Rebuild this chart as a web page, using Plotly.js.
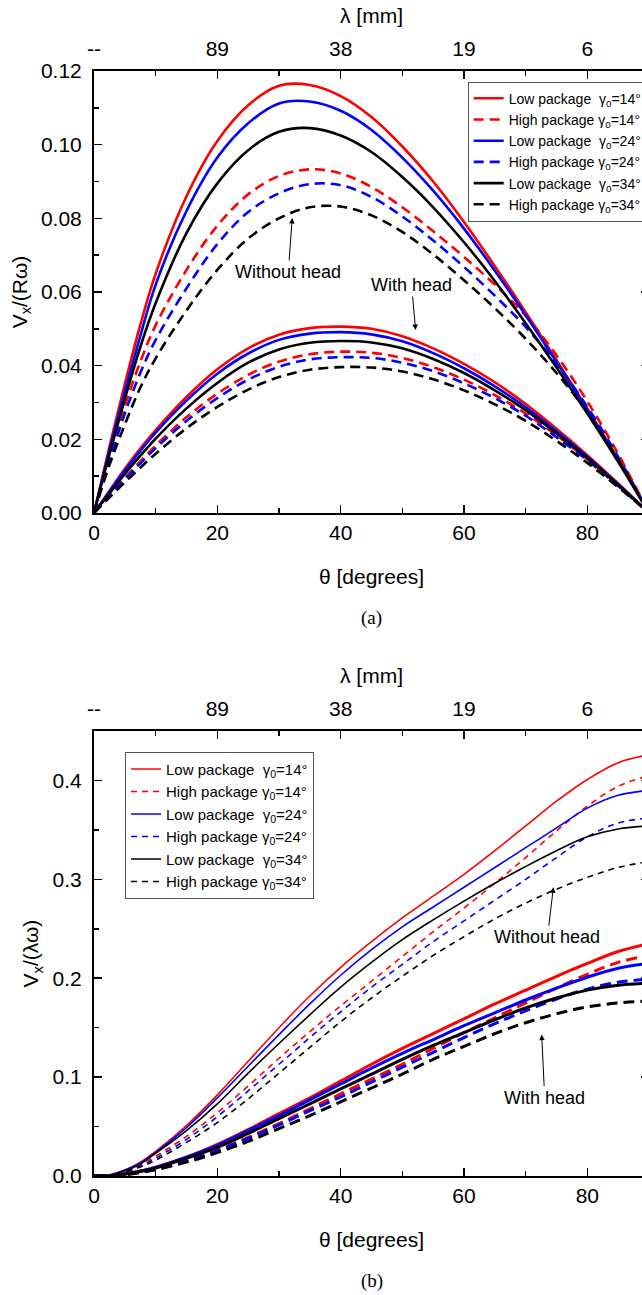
<!DOCTYPE html>
<html>
<head>
<meta charset="utf-8">
<script src="https://cdn.plot.ly/plotly-3.0.1.min.js"></script>
<style>
  html, body { margin: 0; padding: 0; background: #fff; overflow: hidden; }
  #chart { width: 700px; height: 1295px; }
</style>
</head>
<body>
<div id="chart"></div>
<script>
// Polar angle of the contact point, degrees
const theta = [0, 2.5, 5, 7.5, 10, 15, 20, 25, 30, 35, 40, 45, 50, 55, 60, 65, 70, 75, 80, 85, 90];

// Secondary (top) axis: wavelength labels at the major theta ticks
const lambdaTickPos = [0, 20, 40, 60, 80];
const lambdaTickText = ['--', '89', '38', '19', '6'];

// (a) Vx/(R·omega) — without head
const a_low14  = [0, 0.018, 0.035, 0.051, 0.065, 0.086, 0.101, 0.1107, 0.1160, 0.1162, 0.1132, 0.1075, 0.0995, 0.0900, 0.0790, 0.0670, 0.0545, 0.0415, 0.0283, 0.0145, 0];
const a_high14 = [0, 0.015, 0.029, 0.041, 0.051, 0.066, 0.078, 0.0865, 0.0915, 0.0933, 0.0922, 0.0885, 0.0830, 0.0765, 0.0695, 0.0620, 0.0535, 0.0428, 0.0303, 0.0160, 0];
const a_low24  = [0, 0.017, 0.033, 0.048, 0.062, 0.082, 0.0965, 0.1058, 0.1112, 0.1117, 0.1092, 0.1040, 0.0965, 0.0875, 0.0772, 0.0658, 0.0537, 0.0410, 0.0280, 0.0143, 0];
const a_high24 = [0, 0.014, 0.027, 0.038, 0.047, 0.061, 0.073, 0.0817, 0.0868, 0.0893, 0.0890, 0.0858, 0.0805, 0.0740, 0.0668, 0.0590, 0.0505, 0.0405, 0.0288, 0.0152, 0];
const a_low34  = [0, 0.016, 0.031, 0.045, 0.057, 0.076, 0.0895, 0.0985, 0.1035, 0.1045, 0.1025, 0.0980, 0.0912, 0.0830, 0.0735, 0.0630, 0.0515, 0.0395, 0.0270, 0.0139, 0];
const a_high34 = [0, 0.013, 0.024, 0.034, 0.042, 0.055, 0.066, 0.0745, 0.0800, 0.0830, 0.0832, 0.0808, 0.0763, 0.0702, 0.0632, 0.0556, 0.0473, 0.0380, 0.0273, 0.0145, 0];

// (a) Vx/(R·omega) — with head
const a_low14_h  = [0, 0.006, 0.012, 0.0175, 0.0225, 0.0315, 0.0390, 0.0447, 0.0484, 0.0502, 0.0506, 0.0500, 0.0480, 0.0447, 0.0405, 0.0355, 0.0296, 0.0229, 0.0157, 0.0080, 0];
const a_high14_h = [0, 0.0048, 0.0095, 0.0140, 0.0183, 0.0260, 0.0324, 0.0375, 0.0411, 0.0431, 0.0438, 0.0435, 0.0421, 0.0396, 0.0362, 0.0320, 0.0270, 0.0211, 0.0146, 0.0075, 0];
const a_low24_h  = [0, 0.0058, 0.0115, 0.0168, 0.0218, 0.0305, 0.0378, 0.0433, 0.0470, 0.0487, 0.0491, 0.0485, 0.0466, 0.0434, 0.0393, 0.0344, 0.0287, 0.0222, 0.0153, 0.0078, 0];
const a_high24_h = [0, 0.0046, 0.0091, 0.0134, 0.0176, 0.0250, 0.0312, 0.0362, 0.0397, 0.0417, 0.0423, 0.0421, 0.0408, 0.0385, 0.0352, 0.0312, 0.0264, 0.0206, 0.0143, 0.0073, 0];
const a_low34_h  = [0, 0.0053, 0.0106, 0.0155, 0.0202, 0.0284, 0.0353, 0.0408, 0.0444, 0.0462, 0.0467, 0.0463, 0.0447, 0.0418, 0.0380, 0.0333, 0.0279, 0.0216, 0.0149, 0.0076, 0];
const a_high34_h = [0, 0.0042, 0.0083, 0.0123, 0.0161, 0.0230, 0.0288, 0.0335, 0.0369, 0.0389, 0.0396, 0.0395, 0.0384, 0.0363, 0.0333, 0.0295, 0.0250, 0.0196, 0.0136, 0.0070, 0];

// (b) Vx/(lambda·omega) — without head
const b_low14  = [0, 0.001, 0.006, 0.014, 0.025, 0.051, 0.082, 0.116, 0.150, 0.182, 0.211, 0.237, 0.261, 0.283, 0.305, 0.329, 0.354, 0.379, 0.401, 0.418, 0.426];
const b_high14 = [0, 0.001, 0.004, 0.011, 0.020, 0.040, 0.064, 0.091, 0.119, 0.146, 0.172, 0.197, 0.222, 0.247, 0.271, 0.296, 0.322, 0.349, 0.374, 0.394, 0.405];
const b_low24  = [0, 0.001, 0.006, 0.013, 0.024, 0.049, 0.079, 0.111, 0.143, 0.174, 0.203, 0.229, 0.252, 0.272, 0.292, 0.312, 0.332, 0.352, 0.372, 0.385, 0.390];
const b_high24 = [0, 0.001, 0.004, 0.010, 0.018, 0.037, 0.060, 0.086, 0.113, 0.140, 0.166, 0.191, 0.214, 0.237, 0.258, 0.279, 0.300, 0.322, 0.343, 0.357, 0.362];
const b_low34  = [0, 0.001, 0.005, 0.012, 0.023, 0.046, 0.073, 0.104, 0.134, 0.163, 0.191, 0.216, 0.239, 0.259, 0.278, 0.296, 0.313, 0.329, 0.343, 0.351, 0.354];
const b_high34 = [0, 0.001, 0.004, 0.009, 0.016, 0.034, 0.054, 0.078, 0.104, 0.130, 0.156, 0.180, 0.202, 0.223, 0.242, 0.260, 0.276, 0.290, 0.302, 0.312, 0.318];

// (b) Vx/(lambda·omega) — with head
const b_low14_h  = [0, 0.0003, 0.002, 0.005, 0.009, 0.019, 0.032, 0.047, 0.063, 0.079, 0.096, 0.113, 0.129, 0.144, 0.159, 0.174, 0.188, 0.202, 0.215, 0.227, 0.235];
const b_high14_h = [0, 0.0002, 0.0015, 0.004, 0.007, 0.016, 0.0265, 0.039, 0.053, 0.068, 0.083, 0.098, 0.113, 0.129, 0.145, 0.160, 0.175, 0.190, 0.204, 0.216, 0.223];
const b_low24_h  = [0, 0.0003, 0.002, 0.005, 0.0086, 0.019, 0.031, 0.046, 0.061, 0.077, 0.093, 0.109, 0.124, 0.138, 0.152, 0.165, 0.178, 0.190, 0.201, 0.210, 0.215];
const b_high24_h = [0, 0.0002, 0.0014, 0.0038, 0.0068, 0.015, 0.0255, 0.038, 0.0516, 0.066, 0.080, 0.095, 0.110, 0.125, 0.140, 0.154, 0.167, 0.179, 0.189, 0.196, 0.199];
const b_low34_h  = [0, 0.0003, 0.002, 0.0045, 0.008, 0.018, 0.029, 0.043, 0.058, 0.073, 0.088, 0.103, 0.118, 0.132, 0.145, 0.158, 0.170, 0.180, 0.188, 0.193, 0.195];
const b_high34_h = [0, 0.0002, 0.0013, 0.0035, 0.0064, 0.014, 0.0236, 0.035, 0.048, 0.061, 0.075, 0.089, 0.103, 0.118, 0.131, 0.144, 0.155, 0.164, 0.171, 0.175, 0.177];

const seriesNames = [
  'Low package\u00A0\u00A0γ<sub>0</sub>=14°',
  'High package γ<sub>0</sub>=14°',
  'Low package\u00A0\u00A0γ<sub>0</sub>=24°',
  'High package γ<sub>0</sub>=24°',
  'Low package\u00A0\u00A0γ<sub>0</sub>=34°',
  'High package γ<sub>0</sub>=34°'
];
const seriesColors = ['#ff0000', '#ff0000', '#0000ff', '#0000ff', '#000000', '#000000'];
const seriesDashed = [false, true, false, true, false, true];

const SANS = 'Liberation Sans, Arial, Helvetica, sans-serif';
const traces = [];

function addSet(values, xa, ya, legendId, showLegend, width, dash) {
  values.forEach((v, i) => {
    traces.push({
      x: theta, y: v, xaxis: xa, yaxis: ya,
      type: 'scatter', mode: 'lines',
      name: seriesNames[i],
      legend: legendId,
      showlegend: showLegend,
      line: { color: seriesColors[i], width: width, shape: 'spline', smoothing: 1,
              dash: seriesDashed[i] ? dash : 'solid' },
      hoverinfo: 'skip'
    });
  });
}

// "with head" families live on the top (lambda) axes, which share the theta range
addSet([a_low14, a_high14, a_low24, a_high24, a_low34, a_high34], 'x', 'y', 'legend', true, 2.6, '10px,6px');
addSet([a_low14_h, a_high14_h, a_low24_h, a_high24_h, a_low34_h, a_high34_h], 'x3', 'y', 'legend', false, 2.6, '10px,6px');
addSet([b_low14, b_high14, b_low24, b_high24, b_low34, b_high34], 'x2', 'y2', 'legend2', true, 1.6, '6px,5px');
addSet([b_low14_h, b_high14_h, b_low24_h, b_high24_h, b_low34_h, b_high34_h], 'x4', 'y2', 'legend2', false, 3, '11px,6px');

const axisFont = { family: SANS, size: 21, color: '#000' };

function thetaAxis(anchor) {
  return {
    anchor: anchor, range: [0, 90], tickvals: [0, 20, 40, 60, 80],
    ticks: 'inside', ticklen: 8, tickwidth: 1.5, tickcolor: '#000',
    minor: { ticks: 'inside', ticklen: 5, tickwidth: 1.5, tickcolor: '#000', dtick: 10, tick0: 0, showgrid: false },
    showline: true, linewidth: 2, linecolor: '#000', mirror: 'ticks',
    showgrid: false, zeroline: false, tickfont: axisFont,
    title: { text: 'θ [degrees]', font: axisFont, standoff: 26 }
  };
}
function lambdaAxis(over, anchor) {
  return {
    overlaying: over, anchor: anchor, side: 'top', range: [0, 90],
    tickmode: 'array', tickvals: lambdaTickPos, ticktext: lambdaTickText,
    ticks: '', showline: false, showgrid: false, zeroline: false,
    tickfont: axisFont, ticklabelstandoff: 10,
    title: { text: 'λ [mm]', font: axisFont, standoff: 7 }
  };
}
function valueAxis(anchor, domain, range, dtick, fmt, minorStep, titleText) {
  return {
    anchor: anchor, domain: domain, range: range, dtick: dtick, tick0: 0, tickformat: fmt,
    ticks: 'inside', ticklen: 8, tickwidth: 1.5, tickcolor: '#000',
    minor: { ticks: 'inside', ticklen: 5, tickwidth: 1.5, tickcolor: '#000', dtick: minorStep, tick0: 0, showgrid: false },
    showline: true, linewidth: 2, linecolor: '#000', mirror: 'ticks',
    showgrid: false, zeroline: false, tickfont: axisFont, ticklabelstandoff: 6,
    title: { text: titleText, font: axisFont, standoff: 8 }
  };
}

const legendBox = (x, y, size) => ({
  x: x, y: y, xref: 'paper', yref: 'paper', xanchor: 'left', yanchor: 'top',
  bgcolor: '#fff', bordercolor: '#555', borderwidth: 1,
  font: { family: SANS, size: size, color: '#000' }, tracegroupgap: 0
});

const noteFont = { family: SANS, size: 18, color: '#000' };
const arrowNote = (xa, ya, x, y, ax, ay, text) => ({
  xref: xa, yref: ya, x: x, y: y, ax: ax, ay: ay, text: text,
  showarrow: true, arrowhead: 2, arrowsize: 1.1, arrowwidth: 1, arrowcolor: '#000',
  standoff: 0, font: noteFont
});

const layout = {
  width: 700, height: 1295,
  margin: { l: 94, r: 51, t: 71, b: 119 },
  paper_bgcolor: '#fff', plot_bgcolor: '#fff',
  showlegend: true,
  xaxis: thetaAxis('y'),
  yaxis: valueAxis('x', [0.6, 1], [0, 0.12], 0.02, '.2f', 0.01, 'V<sub>x</sub>/(Rω)'),
  xaxis2: thetaAxis('y2'),
  yaxis2: valueAxis('x2', [0, 0.4027], [0, 0.45], 0.1, '.1f', 0.05, 'V<sub>x</sub>/(λω)'),
  xaxis3: lambdaAxis('x', 'y'),
  xaxis4: lambdaAxis('x2', 'y2'),
  legend: legendBox(0.6733, 0.9903, 14),
  legend2: legendBox(0.0559, 0.384, 15),
  annotations: [
    arrowNote('x', 'y', 32.15, 0.0801, -4, 54, 'Without head'),
    arrowNote('x', 'y', 52.15, 0.0497, -4, -45, 'With head'),
    arrowNote('x2', 'y2', 74.5, 0.292, -6, 50, 'Without head'),
    arrowNote('x2', 'y2', 72.6, 0.143, 3, 63, 'With head'),
    { xref: 'paper', yref: 'paper', x: 0.5, y: 0.505, xanchor: 'center', yanchor: 'middle',
      showarrow: false, text: '(a)', font: { family: 'Liberation Serif, DejaVu Serif, serif', size: 19, color: '#000' } },
    { xref: 'paper', yref: 'paper', x: 0.5, y: -0.095, xanchor: 'center', yanchor: 'middle',
      showarrow: false, text: '(b)', font: { family: 'Liberation Serif, DejaVu Serif, serif', size: 19, color: '#000' } }
  ]
};

Plotly.newPlot('chart', traces, layout, { staticPlot: true, displayModeBar: false });
</script>
</body>
</html>
